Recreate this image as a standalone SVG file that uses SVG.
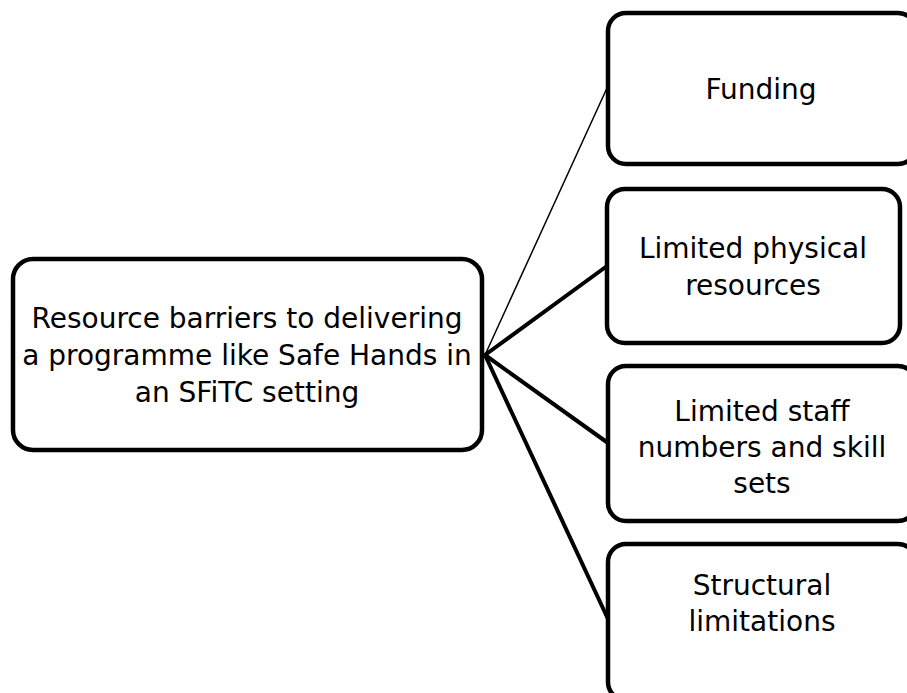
<svg xmlns="http://www.w3.org/2000/svg" width="907" height="693" viewBox="0 0 907 693">
  <style>
    .box { fill: #ffffff; stroke: #000000; stroke-width: 4.5; }
    .label { font-family: "DejaVu Sans", "Liberation Sans", sans-serif; font-size: 28px; fill: #000000; text-anchor: middle; }
    .link { stroke: #000000; stroke-width: 4; fill: none; stroke-linecap: round; }
    .link.thin { stroke-width: 1.5; }
  </style>
  <rect width="907" height="693" fill="#ffffff"/>

  <!-- connectors from the central node to each barrier -->
  <g id="connectors">
    <line class="link thin" x1="485" y1="355" x2="607" y2="88"/>
    <line class="link" x1="485" y1="355" x2="607" y2="266"/>
    <line class="link" x1="485" y1="355" x2="608" y2="443"/>
    <line class="link" x1="485" y1="355" x2="608" y2="619"/>
  </g>

  <g id="root">
    <rect class="box" x="13" y="259" width="469" height="191" rx="20"/>
    <text class="label" x="247" y="328">Resource barriers to delivering</text>
    <text class="label" x="247" y="365">a programme like Safe Hands in</text>
    <text class="label" x="247" y="402">an SFiTC setting</text>
  </g>

  <g id="funding">
    <rect class="box" x="608" y="13" width="308" height="151" rx="18"/>
    <text class="label" x="761" y="99">Funding</text>
  </g>

  <g id="physical">
    <rect class="box" x="607" y="189" width="293" height="154" rx="18"/>
    <text class="label" x="753" y="258">Limited physical</text>
    <text class="label" x="753" y="295">resources</text>
  </g>

  <g id="staff">
    <rect class="box" x="608" y="366" width="308" height="155" rx="18"/>
    <text class="label" x="762" y="421">Limited staff</text>
    <text class="label" x="762" y="457">numbers and skill</text>
    <text class="label" x="762" y="493">sets</text>
  </g>

  <g id="structural">
    <rect class="box" x="608" y="544" width="308" height="156" rx="18"/>
    <text class="label" x="762" y="595">Structural</text>
    <text class="label" x="762" y="631">limitations</text>
  </g>
</svg>
